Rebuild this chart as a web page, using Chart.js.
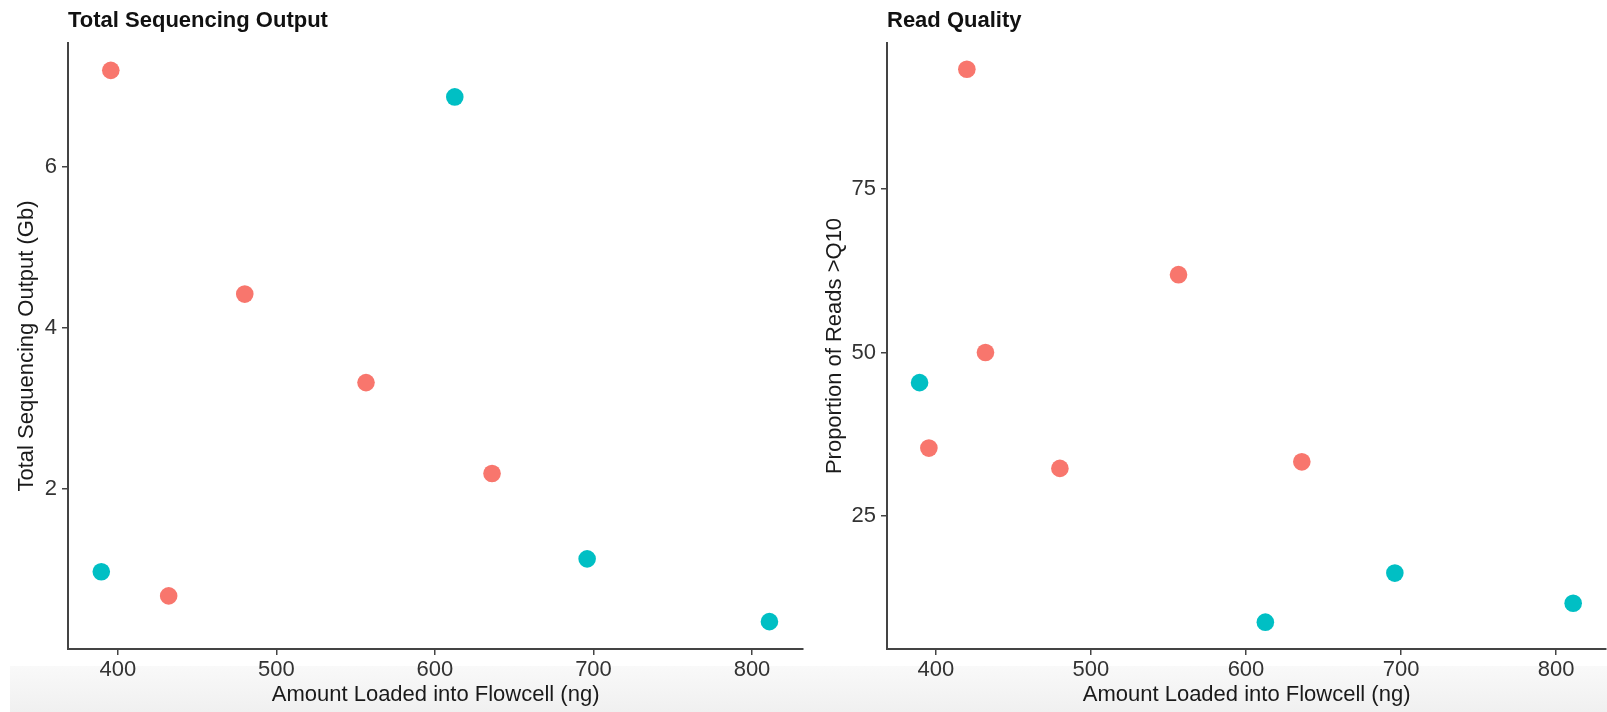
<!DOCTYPE html>
<html>
<head>
<meta charset="utf-8">
<script src="https://cdn.jsdelivr.net/npm/chart.js@4.4.1/dist/chart.umd.min.js"></script>
<style>
    html, body { margin: 0; padding: 0; background: #fff; overflow: hidden; }
    body { width: 1607px; height: 712px; position: relative; }
    .band {
        position: absolute; left: 10px; right: 0; top: 666px; height: 46px;
        background: linear-gradient(#f9f9f9, #f0f0f0);
    }
    canvas { position: absolute; top: 0; }
    #outputChart { left: 0; }
    #qualityChart { left: 810px; }
</style>
</head>
<body>
<div class="band"></div>
<canvas id="outputChart" width="812" height="712"></canvas>
<canvas id="qualityChart" width="805" height="712"></canvas>
<script>
// Amount loaded (ng) per run, and which group the run belongs to
const amountNg = [389.5, 395.5, 420, 432, 480, 556.5, 612.5, 636, 696, 811];
const runGroup = ['b', 'a', 'a', 'a', 'a', 'a', 'b', 'a', 'b', 'b'];
// Total sequencing output (Gb), null = not reported
const outputGb = [0.97, 7.2, null, 0.67, 4.42, 3.32, 6.87, 2.19, 1.13, 0.35];
// Proportion of reads > Q10 (%)
const qualityPct = [45.4, 35.4, 93.3, 50.0, 32.3, 61.9, 8.8, 33.3, 16.3, 11.7];

const xTicks = [400, 500, 600, 700, 800];
const outputTicks = [2, 4, 6];
const qualityTicks = [25, 50, 75];

const groupColors = { a: '#F8766D', b: '#00BFC4' };
const FONT = "'Liberation Sans', Arial, sans-serif";

// split a value array into one scatter dataset per group
const buildDatasets = (values) => Object.keys(groupColors).map(g => ({
    data: amountNg
        .map((x, i) => ({ x, y: values[i], g: runGroup[i] }))
        .filter(p => p.g === g && p.y !== null),
    backgroundColor: groupColors[g],
    borderWidth: 0,
    pointRadius: 8.8,
    pointHoverRadius: 8.8,
}));

// panel title drawn flush with the plot's left edge
const panelTitle = {
    id: 'panelTitle',
    afterDraw(chart, args, opts) {
        const ctx = chart.ctx;
        ctx.save();
        ctx.font = `bold 22px ${FONT}`;
        ctx.fillStyle = '#111';
        ctx.textBaseline = 'alphabetic';
        ctx.textAlign = 'left';
        ctx.fillText(opts.text, chart.chartArea.left, 27);
        ctx.restore();
    }
};

const makeChart = (id, cfg) => new Chart(document.getElementById(id), {
    type: 'scatter',
    data: { datasets: buildDatasets(cfg.values) },
    plugins: [panelTitle],
    options: {
        responsive: false,
        animation: false,
        layout: { padding: { top: 43, right: cfg.padRight, left: 0, bottom: 0 } },
        plugins: {
            legend: { display: false },
            tooltip: { enabled: false },
            panelTitle: { text: cfg.title },
        },
        scales: {
            x: {
                type: 'linear',
                min: 368.5,
                max: 832.3,
                afterBuildTicks: s => { s.ticks = xTicks.map(v => ({ value: v })); },
                afterFit: s => { s.height = 63; },
                border: { display: true, color: '#444', width: 2 },
                grid: { drawOnChartArea: false, drawTicks: true, tickLength: 6, color: '#444', lineWidth: 1.5 },
                ticks: { color: '#333', font: { family: FONT, size: 22 }, padding: 2, maxRotation: 0 },
                title: {
                    display: true,
                    text: 'Amount Loaded into Flowcell (ng)',
                    color: '#1a1a1a',
                    font: { family: FONT, size: 22 },
                    padding: { top: 0, bottom: 4 },
                },
            },
            y: {
                type: 'linear',
                min: cfg.yMin,
                max: cfg.yMax,
                afterBuildTicks: s => { s.ticks = cfg.yTicks.map(v => ({ value: v })); },
                afterFit: s => { s.width = cfg.yWidth; },
                border: { display: true, color: '#444', width: 2 },
                grid: { drawOnChartArea: false, drawTicks: true, tickLength: 6, color: '#444', lineWidth: 1.5 },
                ticks: { color: '#333', font: { family: FONT, size: 22 }, padding: 5 },
                title: {
                    display: true,
                    text: cfg.yTitle,
                    color: '#1a1a1a',
                    font: { family: FONT, size: 22 },
                    padding: { top: cfg.yTitlePad, bottom: 0 },
                },
            },
        },
    },
});

makeChart('outputChart', {
    title: 'Total Sequencing Output',
    values: outputGb,
    yTicks: outputTicks,
    yMin: 0.01, yMax: 7.54,
    yTitle: 'Total Sequencing Output (Gb)',
    yWidth: 68, yTitlePad: 14, padRight: 8,
});

makeChart('qualityChart', {
    title: 'Read Quality',
    values: qualityPct,
    yTicks: qualityTicks,
    yMin: 4.7, yMax: 97.3,
    yTitle: 'Proportion of Reads >Q10',
    yWidth: 77, yTitlePad: 12, padRight: 3,
});
</script>
</body>
</html>
